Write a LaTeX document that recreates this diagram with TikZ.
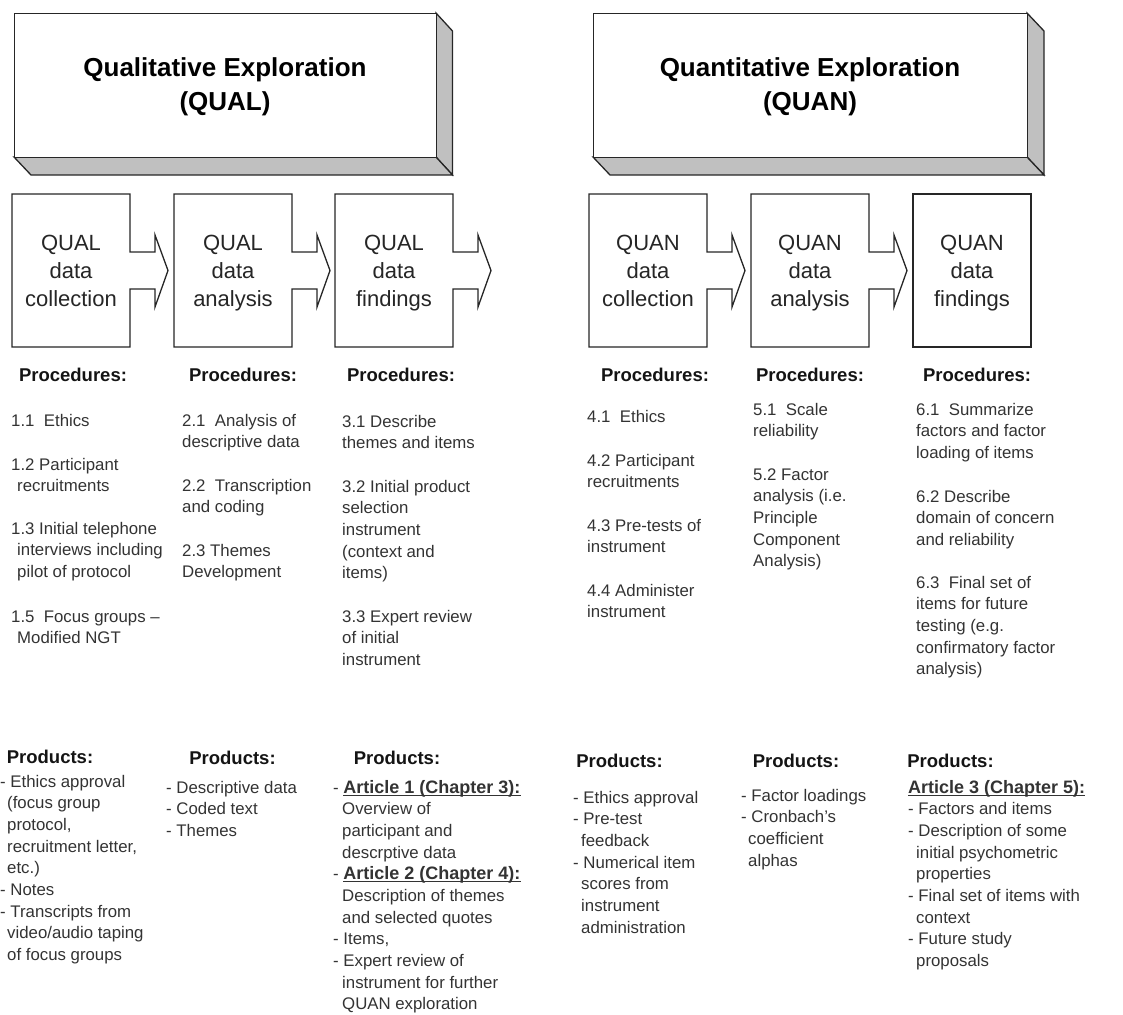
\documentclass[tikz,border=0pt]{standalone}
\usepackage{fontspec}
\setmainfont{Liberation Sans}
\definecolor{bodytxt}{HTML}{333333}
\definecolor{edge}{HTML}{262626}
\definecolor{sidegray}{HTML}{C0C0C0}
\newcommand\blk[1]{\parbox[t]{240pt}{\raggedright #1}}
\newcommand\art[1]{\leavevmode{\bfseries\fontsize{18}{21.67}\selectfont\setbox0\hbox{#1}\rlap{\rule[-2.6pt]{\wd0}{1pt}}\box0}}
\newcommand\ind[1]{\hspace*{#1pt}}
\newcommand\callout[1]{\draw[outline,fill=white] (#1,194) -- (#1+118,194) -- (#1+118,252) -- (#1+143,252) -- (#1+143,235) -- (#1+156,270.5) -- (#1+143,307) -- (#1+143,289) -- (#1+118,289) -- (#1+118,347) -- (#1,347) -- cycle;}
\begin{document}
\begin{tikzpicture}[x=1pt,y=-1pt,
  body/.style={anchor=base west,inner sep=0pt,text=bodytxt,font=\fontsize{16.8}{21.67}\selectfont},
  head/.style={anchor=base,inner sep=0pt,text=black!92,font=\bfseries\fontsize{18.5}{22}\selectfont},
  steplabel/.style={anchor=base,inner sep=0pt,text=black!85,font=\fontsize{22}{28}\selectfont},
  titlelabel/.style={anchor=base,inner sep=0pt,text=black,font=\bfseries\fontsize{26}{34}\selectfont},
  outline/.style={draw=edge,line width=1.3pt,line join=miter},
  shade/.style={outline,fill=sidegray},
  face/.style={outline,fill=white,inner sep=0pt,anchor=north west}]
\useasboundingbox (0,0) rectangle (1123,1014);

% ---- 3D title boxes ----
\draw[shade] (436,13) -- (452.5,31) -- (452.5,175) -- (436,157) -- cycle;
\draw[shade] (14,157) -- (31,175) -- (452.5,175) -- (436,157) -- cycle;
\node[face,minimum width=422pt,minimum height=144pt] (qualbox) at (14,13) {};
\node[titlelabel] (qualtitle) at (225,77) {\parbox[t]{400pt}{\centering Qualitative Exploration\\(QUAL)}};

\draw[shade] (1027,13) -- (1044,31) -- (1044,175) -- (1027,157) -- cycle;
\draw[shade] (593,157) -- (610,175) -- (1044,175) -- (1027,157) -- cycle;
\node[face,minimum width=434pt,minimum height=144pt] (quanbox) at (593,13) {};
\node[titlelabel] (quantitle) at (810,77) {\parbox[t]{400pt}{\centering Quantitative Exploration\\(QUAN)}};

% ---- step boxes ----
\callout{12}
\callout{174}
\callout{335}
\callout{589}
\callout{751}
\draw[outline,fill=white] (913,194) -- (1031,194) -- (1031,347) -- (913,347) -- cycle;

\node[steplabel] (s1) at (71,250) {\parbox[t]{118pt}{\centering QUAL\\data\\collection}};
\node[steplabel] (s2) at (233,250) {\parbox[t]{118pt}{\centering QUAL\\data\\analysis}};
\node[steplabel] (s3) at (394,250) {\parbox[t]{118pt}{\centering QUAL\\data\\findings}};
\node[steplabel] (s4) at (648,250) {\parbox[t]{118pt}{\centering QUAN\\data\\collection}};
\node[steplabel] (s5) at (810,250) {\parbox[t]{118pt}{\centering QUAN\\data\\analysis}};
\node[steplabel] (s6) at (972,250) {\parbox[t]{118pt}{\centering QUAN\\data\\findings}};

% ---- procedures headings ----
\node[head] (ph1) at (73,381) {Procedures:};
\node[head] (ph2) at (243,381) {Procedures:};
\node[head] (ph3) at (401,381) {Procedures:};
\node[head] (ph4) at (655,381) {Procedures:};
\node[head] (ph5) at (810,381) {Procedures:};
\node[head] (ph6) at (977,381) {Procedures:};

% column 1
\node[body] (p11) at (11,426) {\blk{1.1\ \ Ethics}};
\node[body] (p12) at (11,470) {\blk{1.2 Participant\\\ind{6}recruitments}};
\node[body] (p13) at (11,534) {\blk{1.3 Initial telephone\\\ind{6}interviews including\\\ind{6}pilot of protocol}};
\node[body] (p15) at (11,622) {\blk{1.5\ \ Focus groups –\\\ind{6}Modified NGT}};
% column 2
\node[body] (p21) at (182,426) {\blk{2.1\ \ Analysis of\\descriptive data}};
\node[body] (p22) at (182,491) {\blk{2.2\ \ Transcription\\and coding}};
\node[body] (p23) at (182,556) {\blk{2.3 Themes\\Development}};
% column 3
\node[body] (p31) at (342,427) {\blk{3.1 Describe\\themes and items}};
\node[body] (p32) at (342,492) {\blk{3.2 Initial product\\selection\\instrument\\(context and\\items)}};
\node[body] (p33) at (342,622) {\blk{3.3 Expert review\\of initial\\instrument}};
% column 4
\node[body] (p41) at (587,422) {\blk{4.1\ \ Ethics}};
\node[body] (p42) at (587,466) {\blk{4.2 Participant\\recruitments}};
\node[body] (p43) at (587,531) {\blk{4.3 Pre-tests of\\instrument}};
\node[body] (p44) at (587,596) {\blk{4.4 Administer\\instrument}};
% column 5
\node[body] (p51) at (753,415) {\blk{5.1\ \ Scale\\reliability}};
\node[body] (p52) at (753,480) {\blk{5.2 Factor\\analysis (i.e.\\Principle\\Component\\Analysis)}};
% column 6
\node[body] (p61) at (916,415) {\blk{6.1\ \ Summarize\\factors and factor\\loading of items}};
\node[body] (p62) at (916,502) {\blk{6.2 Describe\\domain of concern\\and reliability}};
\node[body] (p63) at (916,588) {\blk{6.3\ \ Final set of\\items for future\\testing (e.g.\\confirmatory factor\\analysis)}};

% ---- products ----
\node[head] (rh1) at (50,763) {Products:};
\node[head] (rh2) at (232.5,764) {Products:};
\node[head] (rh3) at (397,764) {Products:};
\node[head] (rh4) at (619.5,767) {Products:};
\node[head] (rh5) at (796,767) {Products:};
\node[head] (rh6) at (950.5,767) {Products:};

\node[body] (r1) at (0,787) {\blk{- Ethics approval\\\ind{7}(focus group\\\ind{7}protocol,\\\ind{7}recruitment letter,\\\ind{7}etc.)\\- Notes\\- Transcripts from\\\ind{7}video/audio taping\\\ind{7}of focus groups}};
\node[body] (r2) at (166,793) {\blk{- Descriptive data\\- Coded text\\- Themes}};
\node[body] (r3) at (333,793) {\blk{- \art{Article 1 (Chapter 3):}\\\ind{9}Overview of\\\ind{9}participant and\\\ind{9}descrptive data\\- \art{Article 2 (Chapter 4):}\\\ind{9}Description of themes\\\ind{9}and selected quotes\\- Items,\\- Expert review of\\\ind{9}instrument for further\\\ind{9}QUAN exploration}};
\node[body] (r4) at (573,803) {\blk{- Ethics approval\\- Pre-test\\\ind{8}feedback\\- Numerical item\\\ind{8}scores from\\\ind{8}instrument\\\ind{8}administration}};
\node[body] (r5) at (741,801) {\blk{- Factor loadings\\- Cronbach's\\\ind{7}coefficient\\\ind{7}alphas}};
\node[body] (r6) at (908,793) {\blk{\art{Article 3 (Chapter 5):}\\- Factors and items\\- Description of some\\\ind{8}initial psychometric\\\ind{8}properties\\- Final set of items with\\\ind{8}context\\- Future study\\\ind{8}proposals}};
\end{tikzpicture}
\end{document}
